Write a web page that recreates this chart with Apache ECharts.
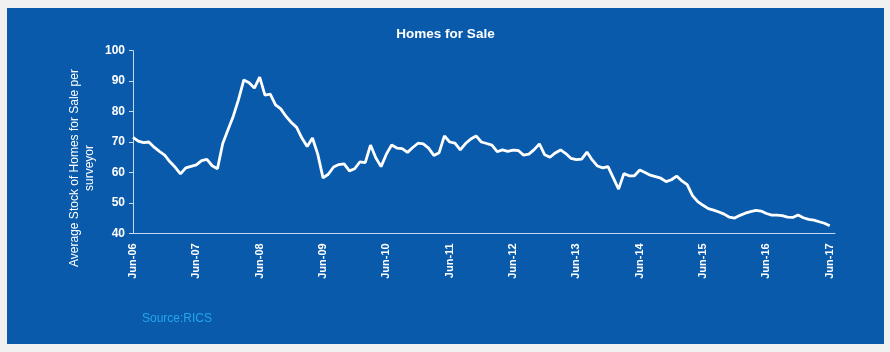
<!DOCTYPE html>
<html>
<head>
<meta charset="utf-8">
<script src="https://cdn.jsdelivr.net/npm/echarts@6/dist/echarts.min.js"></script>
<style>
html,body{margin:0;padding:0;background:#f1f1f1;width:890px;height:352px;overflow:hidden;}
#chart{position:absolute;left:7px;top:8px;width:877px;height:336px;}
</style>
</head>
<body>
<div id="chart"></div>
<script>
// Monthly values, Jun-06 .. Jun-17
const values = [
71.5,70.3,69.8,70.0,68.3,66.9,65.7,63.5,61.7,59.5,61.5,62.0,62.5,63.9,64.3,62.2,61.2,69.5,74.0,78.5,
84.0,90.4,89.5,87.7,91.3,85.4,85.7,82.2,80.9,78.4,76.4,74.8,71.3,68.5,71.3,66.0,58.2,59.4,61.8,62.6,
62.8,60.5,61.2,63.5,63.2,69.0,64.8,61.9,66.0,69.0,68.0,67.8,66.6,68.2,69.6,69.4,68.0,65.6,66.5,72.0,
70.0,69.6,67.4,69.5,71.0,72.0,70.0,69.5,69.0,66.8,67.4,66.9,67.3,67.2,65.7,66.0,67.5,69.4,65.8,65.0,
66.4,67.4,66.2,64.6,64.2,64.4,66.7,64.1,62.1,61.5,61.9,58.2,54.5,59.6,58.9,58.9,60.8,60.0,59.1,58.6,
58.1,57.0,57.6,58.8,57.2,56.0,52.4,50.4,49.2,48.1,47.6,47.0,46.3,45.3,45.0,45.9,46.6,47.1,47.5,47.3,
46.5,46.0,46.0,45.8,45.3,45.2,46.0,45.1,44.6,44.3,43.8,43.3,42.5
];
const tickLabels = ['Jun-06','Jun-07','Jun-08','Jun-09','Jun-10','Jun-11','Jun-12','Jun-13','Jun-14','Jun-15','Jun-16','Jun-17'];
const monthNames = ['Jan','Feb','Mar','Apr','May','Jun','Jul','Aug','Sep','Oct','Nov','Dec'];
const categories = [];
for (let i = 0; i < values.length + 1; i++) {
  const mi = (5 + i) % 12;
  const yr = 6 + Math.floor((5 + i) / 12);
  categories.push(monthNames[mi] + '-' + String(yr).padStart(2, '0'));
}
const yTicks = [40, 50, 60, 70, 80, 90, 100];

const chart = echarts.init(document.getElementById('chart'), null, {renderer: 'canvas'});
const axisCol = '#c9d7ee';
const font = 'Liberation Sans, Arial, sans-serif';
chart.setOption({
  backgroundColor: '#0a5aab',
  animation: false,
  title: {
    text: 'Homes for Sale',
    left: 'center',
    top: 14,
    textStyle: {color: '#ffffff', fontSize: 13.5, fontWeight: 'bold', fontFamily: font}
  },
  grid: {left: 126, right: 49, top: 42.7, bottom: 110.7},
  xAxis: {
    type: 'category',
    data: categories,
    boundaryGap: false,
    axisLine: {lineStyle: {color: axisCol, width: 1}},
    axisTick: {show: false},
    axisLabel: {
      color: '#ffffff', fontSize: 11, fontWeight: 'bold', fontFamily: font, rotate: 90, margin: 10,
      interval: function (idx, val) { return tickLabels.indexOf(val) >= 0; },
      formatter: function (val) { return tickLabels.indexOf(val) >= 0 ? val : ''; }
    },
    splitLine: {show: false}
  },
  yAxis: {
    type: 'value',
    min: yTicks[0], max: yTicks[yTicks.length - 1], interval: 10,
    axisLine: {show: true, lineStyle: {color: axisCol, width: 1}},
    axisTick: {show: true, length: 4, lineStyle: {color: axisCol}},
    axisLabel: {color: '#ffffff', fontSize: 12, fontWeight: 'bold', fontFamily: font, margin: 8},
    splitLine: {show: false}
  },
  graphic: [
    {
      type: 'text',
      x: 75, y: 160,
      rotation: Math.PI / 2,
      style: {
        text: 'Average Stock of Homes for Sale per\nsurveyor',
        fill: '#ffffff', fontSize: 12, fontFamily: font,
        textAlign: 'center', textVerticalAlign: 'middle', lineHeight: 15
      }
    },
    {
      type: 'text',
      left: 135, top: 305,
      style: {text: 'Source:RICS', fill: '#23a6ef', fontSize: 12, fontFamily: font}
    }
  ],
  series: [{
    type: 'line',
    data: values,
    symbol: 'none',
    lineStyle: {color: '#ffffff', width: 2.8},
    itemStyle: {color: '#ffffff'}
  }]
});
</script>
</body>
</html>
